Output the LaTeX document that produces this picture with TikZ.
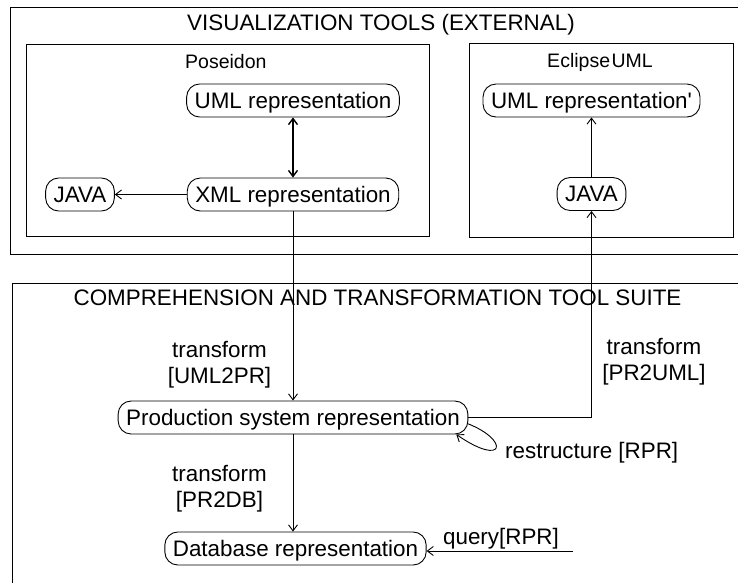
\documentclass[tikz,border=0pt]{standalone}
\usepackage{fontspec}
\setmainfont{Liberation Sans}
\usetikzlibrary{arrows.meta}
\begin{document}
\begin{tikzpicture}[x=1pt,y=-1pt,
  >={Straight Barb[length=6pt,width=9pt]},
  state/.style={draw, line width=0.9pt, rounded corners=13pt, minimum height=33pt,
    inner xsep=8pt, text height=17pt, text depth=2pt,
    font=\fontsize{22.4}{26}\selectfont},
  lbl/.style={font=\fontsize{22.4}{25.5}\selectfont, inner sep=0pt},
  boxtitle/.style={font=\fontsize{19.5}{22}\selectfont, inner sep=0pt},
  frame/.style={line width=0.9pt},
  conn/.style={line width=0.9pt},
]
\useasboundingbox (0,0) rectangle (738,582);

% enclosing frames (open towards the right / bottom edge)
\draw[frame] (740,7) -- (10,7) -- (10,254) -- (740,254);
\draw[frame] (740,283) -- (12,283) -- (12,584);
\draw[frame] (26,44) rectangle (429,236);
\draw[frame] (469,43) rectangle (733,237);

% frame titles
\node[lbl, anchor=base] (vtitle) at (381,30) {VISUALIZATION TOOLS (EXTERNAL)};
\node[boxtitle, anchor=base west] (poseidon) at (185,68) {Poseidon};
\node[boxtitle, anchor=base] (eclipse) at (600,67) {Eclipse\hspace{1.5pt}UML};
\node[lbl, anchor=base] (ctitle) at (377.5,305) {COMPREHENSION AND TRANSFORMATION TOOL SUITE};

% representations
\node[state] (umlL)  at (293,100.5) {UML representation};
\node[state] (xml)   at (293,194.5) {XML representation};
\node[state] (javaL) at (80,194.5)  {JAVA};
\node[state] (umlR)  at (591.5,100.5) {UML representation\textquotesingle};
\node[state] (javaR) at (591.5,194) {JAVA};
\node[state] (prod)  at (293,417.5) {Production system representation};
\node[state] (db)    at (295.5,548.5) {Database representation};

% connectors
\draw[conn, <->, line width=1.4pt] (umlL) -- (xml);
\draw[conn, ->] (xml) -- (javaL);
\draw[conn, ->] (javaR) -- (umlR);
\draw[conn, ->] (xml) -- (prod);
\draw[conn, ->] (prod.east) -| (javaR.south);
\draw[conn, ->] (prod.south) -- (prod.south |- db.north);
\draw[conn, ->] ([xshift=-1pt,yshift=-6pt]prod.east)
  .. controls (510,440) and (505,468) .. ([xshift=-12pt]prod.south east);
\coordinate (qstart) at (573,551);
\draw[conn, ->] (qstart) -- (qstart -| db.east);

% transition labels (base = baseline of the last line)
\node[lbl, align=center, anchor=base] (tUML2PR) at (219.5,383) {transform\\{[UML2PR]}};
\node[lbl, align=center, anchor=base] (tPR2UML) at (654,380) {transform\\{[PR2UML]}};
\node[lbl, align=center, anchor=base] (tPR2DB) at (219.5,507) {transform\\{[PR2DB]}};
\node[lbl, anchor=base west] (restr) at (505,458) {restructure [RPR]};
\node[lbl, anchor=base] (query) at (501,544) {query[RPR]};
\end{tikzpicture}
\end{document}
